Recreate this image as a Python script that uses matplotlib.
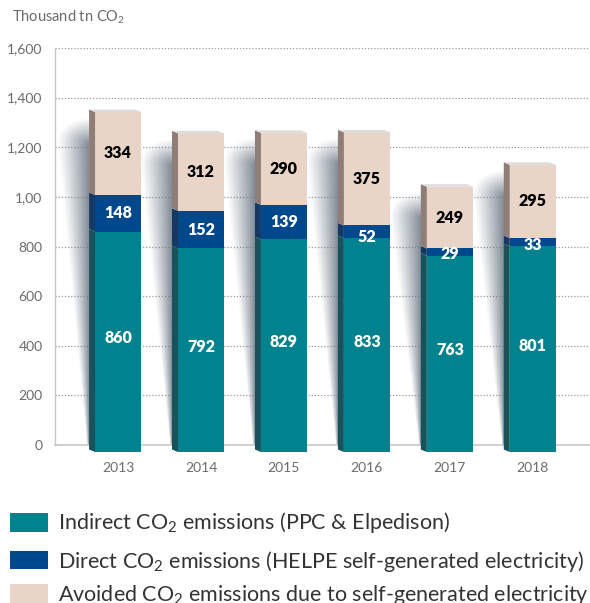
import numpy as np
import matplotlib
matplotlib.use("Agg")
import matplotlib.pyplot as plt
from matplotlib.patches import Polygon, Rectangle

plt.rcParams['font.family'] = ['Lato', 'DejaVu Sans']
plt.rcParams['mathtext.default'] = 'regular'

# ---------------- data ----------------
years = ["2013", "2014", "2015", "2016", "2017", "2018"]
indirect = [860, 792, 829, 833, 763, 801]
direct = [148, 152, 139, 52, 29, 33]
avoided = [334, 312, 290, 375, 249, 295]
ytick_vals = [0, 200, 400, 600, 800, 1000, 1200, 1400, 1600]
ytick_labels = ["0", "200", "400", "600", "800", "1,00", "1,200", "1,400", "1,600"]
legend_labels = [
    "Indirect CO$_2$ emissions (PPC & Elpedison)",
    "Direct CO$_2$ emissions (HELPE self-generated electricity)",
    "Avoided CO$_2$ emissions due to self-generated electricity",
]

# ---------------- style ----------------
c_front = ["#00838F", "#00488C", "#E8D5C7"]
c_side = ["#17535B", "#173862", "#8E7E77"]
c_top = "#DCDCDC"
c_txt = ["white", "white", "black"]
W, H, DPI = 590, 603, 100

fig = plt.figure(figsize=(W / DPI, H / DPI), dpi=DPI)
ax = fig.add_axes([55 / W, 1 - 445 / H, 535 / W, 397 / H])

n = len(years)
x = np.arange(n)

px_x = 1 / 83.0          # data units per pixel (x)
px_y = 1600 / 397.0      # data units per pixel (y)
bw = 46 * px_x
dx = 6 * px_x
dy = 2.5 * px_y
base = 7 * px_y          # bars reach slightly below the axis line

# grid
for v in ytick_vals[1:]:
    ax.axhline(v, color="#9a9a9a", lw=0.9, ls=(0, (1, 1.5)), zorder=0)

ax.set_yticks(ytick_vals)
ax.set_yticklabels(ytick_labels)
ax.set_xticks(x)
ax.set_xticklabels(years)
ax.tick_params(axis="both", length=0, colors="#6b6b6b", labelsize=10)
ax.tick_params(axis="x", pad=12)
ax.tick_params(axis="y", pad=9)
for s in ["top", "right"]:
    ax.spines[s].set_visible(False)
ax.spines["left"].set_color("#c8c8c8")
ax.spines["bottom"].set_color("#c8c8c8")
ax.spines["left"].set_linewidth(1.0)
ax.spines["bottom"].set_linewidth(1.2)

series = [indirect, direct, avoided]
totals = [a + b + c for a, b, c in zip(indirect, direct, avoided)]

# shadows (soft wedge-shaped gradient left of each bar), built in pixel units
SW = 34                    # shadow width at the top, px
RC = 26                    # rounded corner height, px
for i in range(n):
    x0 = x[i] - bw / 2 - dx
    top = totals[i] - 6 * px_y
    Hs = int(round(top / px_y))
    hh = np.arange(Hs)[::-1] + 0.5
    dd = (np.arange(SW)[::-1] + 0.5)
    D, Hh = np.meshgrid(dd, hh)
    w = 2.0 + (SW - 2.0) * (Hh / Hs)
    cy = np.clip(Hh - (Hs - RC), 0, None) / RC
    e = np.sqrt((D / w) ** 2 + cy ** 2)
    alpha = 0.85 * np.clip(1 - e, 0, 1) ** 1.1
    img = np.zeros((Hs, SW, 4))
    img[..., 0] = 0.42
    img[..., 1] = 0.47
    img[..., 2] = 0.52
    img[..., 3] = alpha
    ax.imshow(img, extent=(x0 - SW * px_x, x0, 0, top), aspect="auto",
              interpolation="bilinear", zorder=1, clip_on=False)

ax.set_xlim(-0.76, 5.69)
ax.set_ylim(0, 1600)

# bars
for i in range(n):
    bottom = 0.0
    xl = x[i] - bw / 2
    for k, vals in enumerate(series):
        v = vals[i]
        b0 = bottom - base if k == 0 else bottom
        h = v + base if k == 0 else v
        ax.bar(x[i], h, width=bw, bottom=b0, color=c_front[k], zorder=3,
               clip_on=False, linewidth=0)
        side = Polygon([(xl, b0), (xl, b0 + h), (xl - dx, b0 + h + dy),
                        (xl - dx, b0 + dy)], closed=True, facecolor=c_side[k],
                       edgecolor="none", zorder=3, clip_on=False)
        ax.add_patch(side)
        if v >= 80:
            ly = bottom + v / 2
        else:
            ly = bottom + min(v / 2, 5)
        ax.text(x[i], ly, str(v), ha="center", va="center", color=c_txt[k],
                fontsize=11.5, fontweight="heavy", zorder=5)
        bottom += v
    T = bottom
    topface = Polygon([(xl, T), (xl + bw, T), (xl + bw - dx, T + dy),
                       (xl - dx, T + dy)], closed=True, facecolor=c_top,
                      edgecolor="none", zorder=3, clip_on=False)
    ax.add_patch(topface)

# title
fig.text(12 / W, 1 - 17 / H, "Thousand tn CO$_2$", ha="left", va="center",
         color="#6b6b6b", fontsize=10.5)

# legend
rows = [(513, 532, 529), (551, 569, 568), (584, 604, 601)]
for k, (t, b, base_y) in enumerate(rows):
    fig.patches.append(Rectangle((10 / W, 1 - b / H), 38 / W, (b - t) / H,
                                 transform=fig.transFigure, facecolor=c_front[k],
                                 edgecolor="none"))
    fig.text(58 / W, 1 - base_y / H, legend_labels[k], ha="left",
             va="baseline", color="#333333", fontsize=15.5)

fig.savefig("out.png", dpi=DPI)
